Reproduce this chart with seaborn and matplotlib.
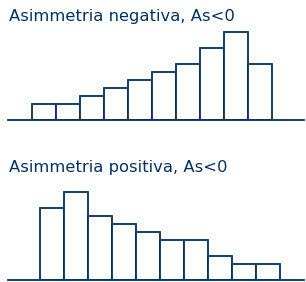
import numpy as np
import pandas as pd
import matplotlib
matplotlib.use('Agg')
import matplotlib.pyplot as plt
import seaborn as sns

# frequenze per classe (unità di altezza)
classi = ['1', '2', '3', '4', '5', '6', '7', '8', '9', '10']
freq_neg = [2, 2, 3, 4, 5, 6, 7, 9, 11, 7]
freq_pos = [9, 11, 8, 7, 6, 5, 5, 3, 2, 2]
titoli = ['Asimmetria negativa, As<0', 'Asimmetria positiva, As<0']

blu = '#003366'
W, H = 306, 282

sns.set_style('white')
plt.rcParams['font.family'] = ['DejaVu Sans']

fig = plt.figure(figsize=(W / 100, H / 100), dpi=100)


def pannello(freq, base_y, left_px, xmin, titolo, title_y):
    # asse in pixel: larghezza 296, unità x = 24 px, unità y = 8 px
    ax = fig.add_axes([left_px / W, base_y / H, 296 / W, 100 / H])
    df = pd.DataFrame({'classe': classi, 'freq': freq})
    sns.barplot(data=df, x='classe', y='freq', ax=ax, width=1.0,
                color='white', edgecolor=blu, linewidth=1.3, errorbar=None)
    for p in ax.patches:
        p.set_facecolor('white')
    ax.set_xlim(xmin, xmin + 296 / 24)
    ax.set_ylim(0, 100 / 8)
    for s in ['top', 'right', 'left']:
        ax.spines[s].set_visible(False)
    ax.spines['bottom'].set_color(blu)
    ax.spines['bottom'].set_linewidth(1.3)
    ax.set_xticks([])
    ax.set_yticks([])
    ax.set_xlabel('')
    ax.set_ylabel('')
    ax.patch.set_alpha(0)
    fig.text(9 / W, title_y / H, titolo, color=blu, fontsize=11.8,
             va='baseline', ha='left')
    return ax


pannello(freq_neg, 162, 8, -1.5, titoli[0], 261.5)
pannello(freq_pos, 2, 8, -0.5 - 32 / 24, titoli[1], 109.8)

fig.savefig('out.png', dpi=100, facecolor='white')
